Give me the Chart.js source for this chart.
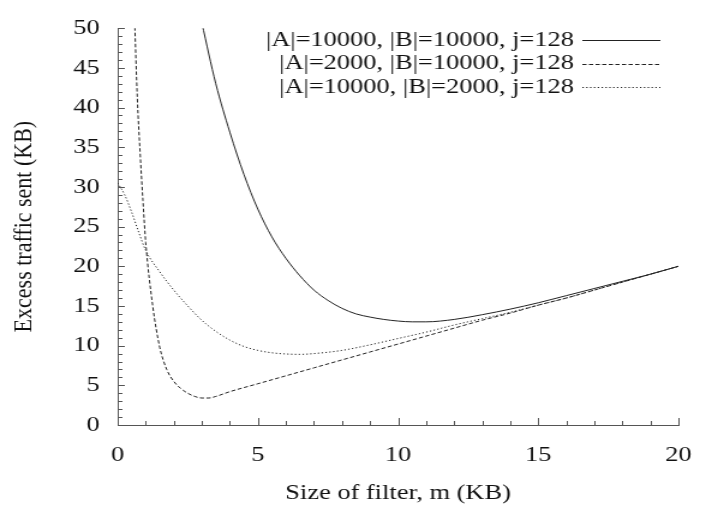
<!DOCTYPE html>
<html>
<head>
<meta charset="utf-8">
<script src="https://cdn.jsdelivr.net/npm/chart.js@4.4.1/dist/chart.umd.min.js"></script>
<style>
  html, body { margin: 0; padding: 0; background: #fff; }
  /* the reference is stretched sideways, so draw narrow and widen it */
  #wrap { width: 593px; height: 508px; transform: scaleX(1.2007); transform-origin: 0 0; }
</style>
</head>
<body>
<div id="wrap"><canvas id="filterChart"></canvas></div>
<script>
const seriesLabels = [
  "|A|=10000, |B|=10000, j=128",
  "|A|=2000, |B|=10000, j=128",
  "|A|=10000, |B|=2000, j=128"
];

// |A|=10000, |B|=10000
const sizeA = [3.0, 3.5, 4, 4.5, 5, 5.5, 6, 6.5, 7, 7.5, 8, 8.5, 9, 9.5, 10, 10.5, 11, 12, 13, 14, 15, 16, 17, 18, 19, 20];
const trafficA = [50.7, 43.0, 36.9, 31.6, 27.2, 23.7, 21.0, 18.8, 17.0, 15.7, 14.7, 14.0, 13.6, 13.3, 13.1, 13.0, 13.0, 13.3, 13.9, 14.6, 15.4, 16.3, 17.2, 18.1, 19.0, 20.0];

// |A|=2000, |B|=10000
const sizeB = [0.6, 0.7, 0.8, 0.9, 1.0, 1.25, 1.5, 1.75, 2.0, 2.25, 2.5, 2.75, 3.0, 3.25, 3.5, 4, 5, 6, 7, 8, 9, 10, 11, 12, 13, 14, 15, 16, 17, 18, 19, 20];
const trafficB = [51.5, 41.2, 34.3, 28.3, 23.0, 15.0, 9.8, 7.0, 5.5, 4.6, 4.0, 3.6, 3.4, 3.4, 3.6, 4.2, 5.2, 6.2, 7.2, 8.2, 9.2, 10.2, 11.2, 12.2, 13.2, 14.1, 15.1, 16.0, 17.0, 18.0, 19.0, 20.0];

// |A|=10000, |B|=2000
const sizeC = [0, 0.25, 0.5, 0.75, 1.0, 1.5, 2, 2.5, 3, 3.5, 4, 4.5, 5, 5.5, 6, 6.5, 7, 8, 9, 10, 11, 12, 13, 14, 15, 16, 17, 18, 19, 20];
const trafficC = [30.5, 29.0, 26.8, 24.3, 22.0, 19.3, 17.0, 15.0, 13.2, 11.8, 10.7, 9.9, 9.4, 9.1, 8.95, 8.9, 9.0, 9.4, 10.1, 10.9, 11.7, 12.6, 13.4, 14.2, 15.1, 16.0, 17.0, 18.0, 19.0, 20.0];

const dashes = [[], [3.5, 2], [1.2, 2]];

let pts = function(xs, ys) {
  return xs.map((v, i) => ({x: v, y: ys[i]}));
};

const serif = "'Liberation Serif', 'Times New Roman', Times, 'DejaVu Serif', serif";
Chart.defaults.font.family = serif;
Chart.defaults.color = "#111";

const axisColor = "#555";

// inward ticks and the legend on the right
const decor = {
  id: "decor",
  afterDraw(chart) {
    const ctx = chart.ctx, x = chart.scales.x, y = chart.scales.y;
    const y0 = y.getPixelForValue(0), x0 = x.getPixelForValue(0);
    ctx.save();
    ctx.strokeStyle = axisColor;
    ctx.lineWidth = 1;
    ctx.beginPath();
    for (let v = 1; v <= 20; v++) {
      const px = Math.round(x.getPixelForValue(v)) + 0.5;
      const len = v % 5 ? 4 : 7;
      ctx.moveTo(px, y0);
      ctx.lineTo(px, y0 - len);
    }
    for (let v = 1; v <= 50; v++) {
      const py = Math.round(y.getPixelForValue(v)) + 0.5;
      const len = v % 5 ? 4 : 6;
      ctx.moveTo(x0, py);
      ctx.lineTo(x0 + len, py);
    }
    ctx.stroke();

    ctx.font = "22px " + serif;
    ctx.textAlign = "right";
    ctx.textBaseline = "middle";
    chart.data.datasets.forEach(function(ds, i) {
      const ty = 40 + i * 23.5;
      ctx.fillStyle = "#111";
      ctx.fillText(ds.label, 478, ty);
      ctx.strokeStyle = "#222";
      ctx.setLineDash(ds.borderDash);
      ctx.beginPath();
      ctx.moveTo(485, Math.round(ty) + 0.5);
      ctx.lineTo(550, Math.round(ty) + 0.5);
      ctx.stroke();
    });
    ctx.restore();
  }
};

const filterChart = new Chart("filterChart", {
  type: "line",
  data: {
    datasets: [
      { label: seriesLabels[0], data: pts(sizeA, trafficA), borderDash: dashes[0] },
      { label: seriesLabels[1], data: pts(sizeB, trafficB), borderDash: dashes[1] },
      { label: seriesLabels[2], data: pts(sizeC, trafficC), borderDash: dashes[2] }
    ].map(d => Object.assign(d, {
      borderColor: "#222",
      borderWidth: 1,
      pointRadius: 0,
      fill: false,
      cubicInterpolationMode: "monotone"
    }))
  },
  options: {
    responsive: true,
    maintainAspectRatio: false,
    animation: false,
    layout: { padding: { top: 19, right: 16, left: 0, bottom: 0 } },
    scales: {
      x: {
        type: "linear",
        min: 0,
        max: 20,
        afterFit(s) { s.height = 83; },
        grid: { display: false, drawTicks: false },
        border: { display: true, color: axisColor, width: 1 },
        ticks: { stepSize: 5, padding: 17, font: { size: 22 }, color: "#111" },
        title: {
          display: true,
          text: "Size of filter, m (KB)",
          font: { size: 22 },
          color: "#111",
          padding: { top: 0, bottom: 2 }
        }
      },
      y: {
        min: 0,
        max: 50,
        afterFit(s) { s.width = 98; },
        grid: { display: false, drawTicks: false },
        border: { display: true, color: axisColor, width: 1 },
        ticks: { stepSize: 5, padding: 15, font: { size: 22 }, color: "#111" },
        title: {
          display: true,
          text: "Excess traffic sent (KB)",
          font: { size: 22 },
          color: "#111",
          padding: { top: 7, bottom: 0 }
        }
      }
    },
    plugins: {
      legend: { display: false },
      tooltip: { enabled: false }
    }
  },
  plugins: [decor]
});
</script>
</body>
</html>
